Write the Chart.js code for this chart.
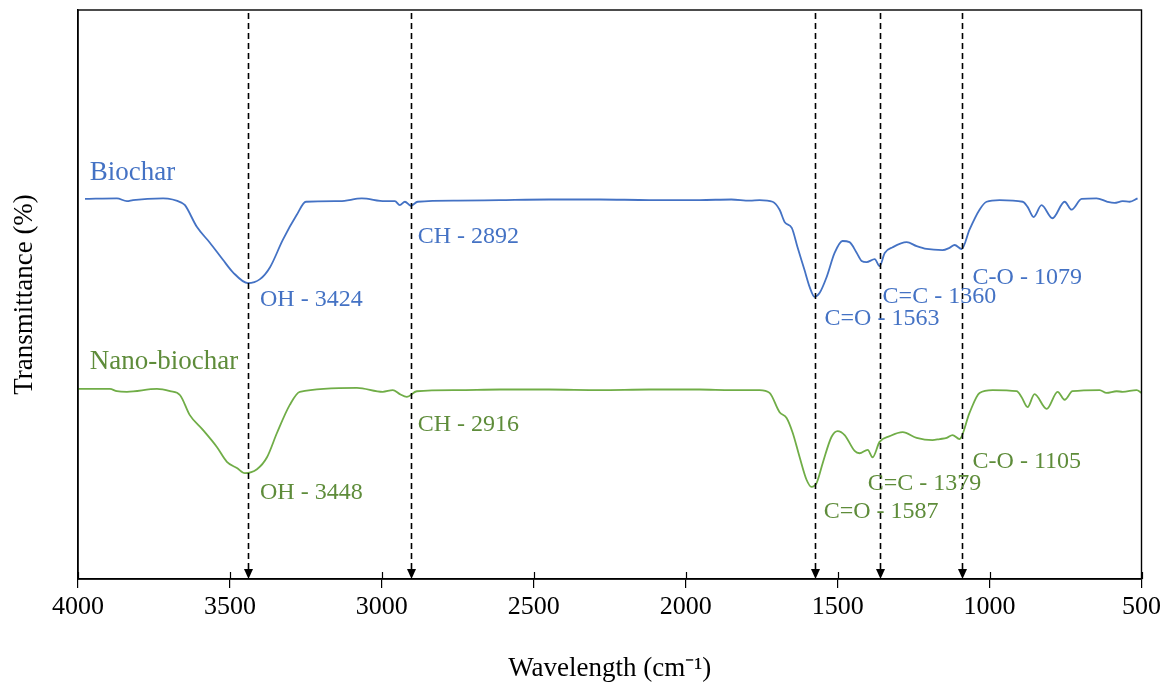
<!DOCTYPE html>
<html>
<head>
<meta charset="utf-8">
<script src="https://cdn.jsdelivr.net/npm/chart.js@4/dist/chart.umd.min.js"></script>
<style>
  html, body { margin: 0; padding: 0; background: #fff; }
  #wrap { width: 1165px; height: 682px; position: relative; }
</style>
</head>
<body>
<div id="wrap"><canvas id="c"></canvas></div>
<script>
// ---- Data ----
const biocharWavenumber = [3977, 3872, 3839, 3819, 3720, 3658, 3648, 3609, 3566, 3523, 3490, 3441, 3401, 3368, 3326, 3280, 3250, 3138, 3066, 2990, 2957, 2941, 2924, 2905, 2882, 2750, 2612, 2450, 2283, 2120, 1954, 1850, 1789, 1757, 1714, 1691, 1674, 1651, 1632, 1609, 1592, 1576, 1559, 1536, 1510, 1484, 1461, 1438, 1421, 1405, 1378, 1362, 1345, 1319, 1273, 1240, 1207, 1155, 1132, 1115, 1092, 1066, 1033, 1010, 967, 891, 875, 855, 829, 793, 753, 730, 697, 648, 612, 589, 562, 539, 513];
const biocharTransmittance = [66.8, 66.9, 66.4, 66.6, 66.9, 66.1, 65.7, 61.9, 59.1, 56.1, 53.9, 52.0, 52.7, 54.8, 59.6, 64.0, 66.3, 66.4, 66.9, 66.4, 66.4, 65.7, 66.3, 65.6, 66.3, 66.5, 66.6, 66.7, 66.7, 66.6, 66.6, 66.7, 66.5, 66.6, 66.3, 64.9, 62.7, 61.7, 58.3, 54.3, 51.3, 49.6, 50.3, 53.1, 57.3, 59.4, 59.2, 57.4, 55.9, 55.7, 56.2, 55.0, 57.3, 58.3, 59.2, 58.5, 58.0, 57.8, 58.2, 58.7, 58.0, 61.4, 64.9, 66.3, 66.6, 66.3, 65.4, 63.6, 65.7, 63.4, 66.3, 64.9, 66.8, 66.9, 66.3, 66.1, 66.4, 66.3, 66.9];

const nanoWavenumber = [4000, 3928, 3895, 3872, 3839, 3740, 3697, 3664, 3632, 3589, 3543, 3510, 3477, 3451, 3411, 3378, 3345, 3303, 3270, 3082, 2997, 2964, 2941, 2918, 2885, 2750, 2612, 2450, 2283, 2120, 1954, 1850, 1757, 1724, 1691, 1668, 1648, 1625, 1602, 1586, 1569, 1549, 1520, 1500, 1477, 1444, 1428, 1401, 1385, 1362, 1329, 1286, 1240, 1188, 1164, 1141, 1122, 1099, 1066, 1033, 990, 911, 895, 875, 852, 812, 776, 753, 727, 638, 615, 582, 562, 516, 500];
const nanoTransmittance = [33.4, 33.4, 33.4, 33.0, 32.9, 33.4, 33.0, 32.3, 28.8, 26.2, 23.2, 20.6, 19.5, 18.6, 19.3, 21.4, 25.7, 30.6, 32.9, 33.6, 32.9, 33.2, 32.5, 32.0, 33.0, 33.2, 33.3, 33.3, 33.2, 33.3, 33.3, 33.2, 33.2, 32.7, 29.3, 28.3, 25.7, 21.4, 17.4, 16.2, 16.9, 20.4, 25.0, 26.0, 25.3, 22.5, 22.1, 22.7, 21.4, 24.1, 25.1, 25.8, 24.8, 24.4, 24.6, 24.8, 25.3, 24.6, 29.2, 32.7, 33.2, 33.0, 32.0, 30.2, 32.5, 29.9, 32.9, 31.5, 33.0, 33.2, 32.7, 33.0, 32.9, 33.2, 32.7];

const xTickValues = [4000, 3500, 3000, 2500, 2000, 1500, 1000, 500];
const peakMarkers = [3441, 2905, 1576, 1362, 1092];

const seriesNames = ['Biochar', 'Nano-biochar'];
const biocharPeakLabels = ['OH - 3424', 'CH - 2892', 'C=O - 1563', 'C=C - 1360', 'C-O - 1079'];
const biocharLabelAnchorX = [3961, 3401, 2882, 1543, 1352, 1056];
const biocharLabelAnchorY = [71.3, 49.0, 60.1, 45.7, 49.7, 52.9];
const nanoPeakLabels = ['OH - 3448', 'CH - 2916', 'C=O - 1587', 'C=C - 1379', 'C-O - 1105'];
const nanoLabelAnchorX = [3961, 3401, 2882, 1546, 1401, 1056];
const nanoLabelAnchorY = [38.2, 15.1, 27.2, 11.8, 16.7, 20.6];

// ---- Styles ----
const BLUE = '#4472C4';
const GREEN = '#70AD47';
const GREEN_TEXT = '#5E8C3A';
const SERIF = '"Liberation Serif", "Times New Roman", serif';

const toPoints = (xs, ys) => xs.map((x, i) => ({ x: x, y: ys[i] }));

const decor = {
  id: 'decor',
  afterDraw(chart) {
    const ctx = chart.ctx;
    const a = chart.chartArea;
    const xs = chart.scales.x, ys = chart.scales.y;
    ctx.save();
    // frame
    ctx.strokeStyle = '#000';
    ctx.lineWidth = 1.4;
    ctx.strokeRect(a.left, a.top, a.right - a.left, a.bottom - a.top);
    // inner tick parts
    ctx.beginPath();
    xTickValues.forEach(v => {
      const px = Math.round(xs.getPixelForValue(v)) + 0.5;
      ctx.moveTo(px, a.bottom - 7);
      ctx.lineTo(px, a.bottom);
    });
    ctx.lineWidth = 1.2;
    ctx.stroke();
    // dashed markers with arrows
    peakMarkers.forEach(v => {
      const px = Math.round(xs.getPixelForValue(v)) + 0.5;
      ctx.beginPath();
      ctx.setLineDash([6, 4]);
      ctx.lineWidth = 1.6;
      ctx.moveTo(px, a.top + 3);
      ctx.lineTo(px, a.bottom - 9);
      ctx.stroke();
      ctx.setLineDash([]);
      ctx.beginPath();
      ctx.moveTo(px - 4.5, a.bottom - 10);
      ctx.lineTo(px + 4.5, a.bottom - 10);
      ctx.lineTo(px, a.bottom);
      ctx.closePath();
      ctx.fillStyle = '#000';
      ctx.fill();
    });
    // annotations
    ctx.textAlign = 'left';
    ctx.textBaseline = 'middle';
    const drawSet = (names, xsA, ysA, color, title) => {
      ctx.fillStyle = color;
      ctx.font = '27px ' + SERIF;
      ctx.fillText(title, xs.getPixelForValue(xsA[0]), ys.getPixelForValue(ysA[0]));
      ctx.font = '24px ' + SERIF;
      names.forEach((t, i) => {
        ctx.fillText(t, xs.getPixelForValue(xsA[i + 1]), ys.getPixelForValue(ysA[i + 1]));
      });
    };
    drawSet(biocharPeakLabels, biocharLabelAnchorX, biocharLabelAnchorY, BLUE, seriesNames[0]);
    drawSet(nanoPeakLabels, nanoLabelAnchorX, nanoLabelAnchorY, GREEN_TEXT, seriesNames[1]);
    ctx.restore();
  }
};

new Chart(document.getElementById('c'), {
  type: 'line',
  data: {
    datasets: [
      {
        label: seriesNames[0],
        data: toPoints(biocharWavenumber, biocharTransmittance),
        borderColor: BLUE,
        borderWidth: 1.8,
        pointRadius: 0,
        cubicInterpolationMode: 'monotone',
        fill: false
      },
      {
        label: seriesNames[1],
        data: toPoints(nanoWavenumber, nanoTransmittance),
        borderColor: GREEN,
        borderWidth: 1.8,
        pointRadius: 0,
        cubicInterpolationMode: 'monotone',
        fill: false
      }
    ]
  },
  options: {
    responsive: true,
    maintainAspectRatio: false,
    animation: false,
    layout: { padding: { left: 0, right: 23, top: 10, bottom: 0 } },
    plugins: { legend: { display: false }, tooltip: { enabled: false } },
    scales: {
      x: {
        type: 'linear',
        reverse: true,
        min: 500,
        max: 4000,
        afterBuildTicks: (s) => { s.ticks = xTickValues.map(v => ({ value: v })); },
        afterFit: (s) => { s.height = 103; },
        grid: { display: true, drawOnChartArea: false, drawTicks: true, tickLength: 9, color: '#000', lineWidth: 1.2 },
        border: { display: true, color: '#000', width: 1.4 },
        ticks: { color: '#000', font: { family: SERIF, size: 26 }, padding: 4, maxRotation: 0, autoSkip: false, callback: (v) => String(v) },
        title: { display: true, text: 'Wavelength (cm⁻¹)', color: '#000', font: { family: SERIF, size: 27, lineHeight: 1 }, padding: { top: 0, bottom: 0 } }
      },
      y: {
        type: 'linear',
        min: 0,
        max: 100,
        afterFit: (s) => { s.width = 78; },
        grid: { display: false, drawTicks: false },
        border: { display: true, color: '#000', width: 1.4 },
        ticks: { display: false },
        title: { display: true, text: 'Transmittance (%)', color: '#000', font: { family: SERIF, size: 27, lineHeight: 1 }, padding: { top: 11, bottom: 0 } }
      }
    }
  },
  plugins: [decor]
});
</script>
</body>
</html>
